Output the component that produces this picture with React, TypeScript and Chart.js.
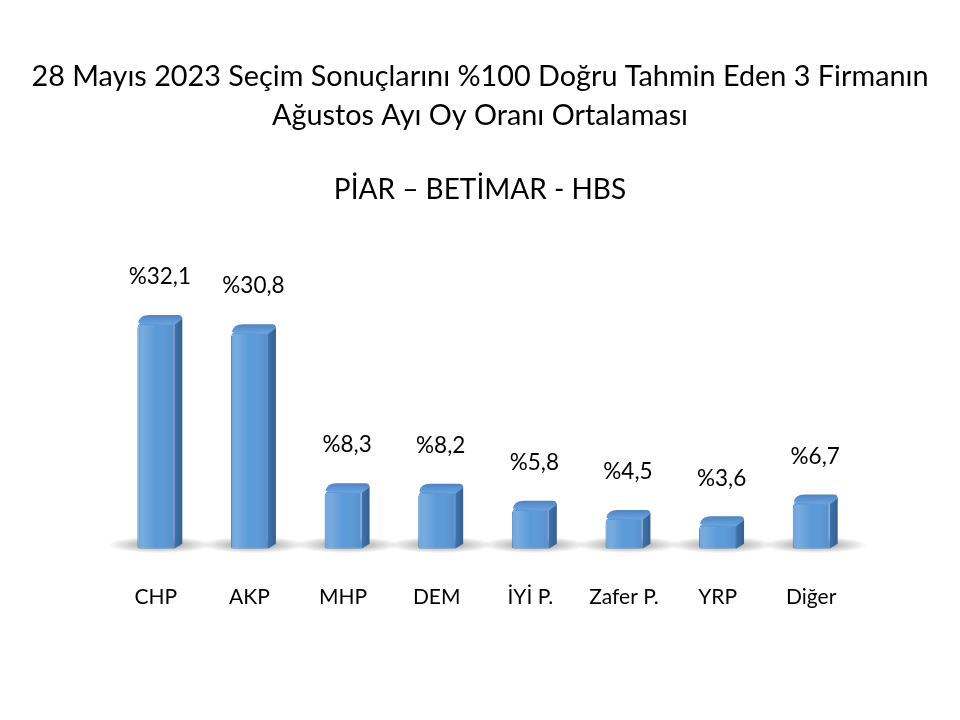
import React, { useEffect, useRef } from "react";
import { Chart, registerables } from "chart.js";

Chart.register(...registerables);

const parties = ["CHP", "AKP", "MHP", "DEM", "İYİ P.", "Zafer P.", "YRP", "Diğer"];
const voteShares = [32.1, 30.8, 8.3, 8.2, 5.8, 4.5, 3.6, 6.7];
const titleLines = [
  "28 Mayıs 2023 Seçim Sonuçlarını %100 Doğru Tahmin Eden 3 Firmanın",
  "Ağustos Ayı Oy Oranı Ortalaması",
];
const subtitleText = "PİAR – BETİMAR - HBS";

const FONT = "Lato, 'Open Sans', sans-serif";
const DEPTH_X = 8;
const DEPTH_Y = -7;

// soft floor shadow under each column, then side + top faces and the "%" labels
const bar3d = {
  id: "bar3d",
  beforeDatasetsDraw(chart: any) {
    const ctx = chart.ctx;
    chart.getDatasetMeta(0).data.forEach((bar: any) => {
      const { x, base } = bar.getProps(["x", "base"], true);
      ctx.save();
      ctx.translate(x + 4, base - 4);
      ctx.scale(1, 0.16);
      const g = ctx.createRadialGradient(0, 0, 0, 0, 0, 52);
      g.addColorStop(0, "rgba(0,0,0,0.5)");
      g.addColorStop(0.5, "rgba(0,0,0,0.22)");
      g.addColorStop(1, "rgba(0,0,0,0)");
      ctx.fillStyle = g;
      ctx.beginPath();
      ctx.arc(0, 0, 52, 0, Math.PI * 2);
      ctx.fill();
      ctx.restore();
    });
  },
  afterDatasetsDraw(chart: any) {
    const ctx = chart.ctx;
    const meta = chart.getDatasetMeta(0);
    meta.data.forEach((bar: any, i: number) => {
      const { x, y, base, width } = bar.getProps(["x", "y", "base", "width"], true);
      const x0 = x - width / 2;
      const x1 = x + width / 2;
      ctx.save();
      ctx.lineJoin = "round";
      // side face
      ctx.beginPath();
      ctx.moveTo(x1, y + 2);
      ctx.lineTo(x1 + DEPTH_X, y + DEPTH_Y + 3);
      ctx.lineTo(x1 + DEPTH_X, base + DEPTH_Y + 2);
      ctx.lineTo(x1, base);
      ctx.closePath();
      const sg = ctx.createLinearGradient(x1, 0, x1 + DEPTH_X, 0);
      sg.addColorStop(0, "#3f73ad");
      sg.addColorStop(1, "#355f91");
      ctx.fillStyle = sg;
      ctx.fill();
      // top face
      ctx.beginPath();
      ctx.moveTo(x0 + 1, y + 1);
      ctx.quadraticCurveTo(x0 + 2, y + DEPTH_Y, x0 + DEPTH_X + 4, y + DEPTH_Y);
      ctx.lineTo(x1 + DEPTH_X - 4, y + DEPTH_Y);
      ctx.quadraticCurveTo(x1 + DEPTH_X, y + DEPTH_Y, x1 + DEPTH_X, y + DEPTH_Y + 4);
      ctx.lineTo(x1, y + 3);
      ctx.closePath();
      const tg = ctx.createLinearGradient(0, y + DEPTH_Y, 0, y + 2);
      tg.addColorStop(0, "#4f84c2");
      tg.addColorStop(1, "#6aa2de");
      ctx.fillStyle = tg;
      ctx.fill();
      // front highlight
      const fg = ctx.createLinearGradient(x0, 0, x1, 0);
      fg.addColorStop(0, "rgba(255,255,255,0.10)");
      fg.addColorStop(0.15, "rgba(255,255,255,0.18)");
      fg.addColorStop(0.5, "rgba(255,255,255,0)");
      fg.addColorStop(1, "rgba(0,0,40,0.08)");
      ctx.fillStyle = fg;
      ctx.fillRect(x0 + 1, y + 3, width - 2, base - y - 4);
      ctx.restore();

      // value label
      ctx.save();
      ctx.font = "22.5px " + FONT;
      ctx.fillStyle = "#000";
      ctx.textAlign = "center";
      ctx.textBaseline = "middle";
      const label = "%" + String(voteShares[i]).replace(".", ",");
      ctx.fillText(label, x + 4, y - 45);
      ctx.restore();
    });
  },
};

const hiddenSide = {
  display: true,
  grid: { display: false, drawTicks: false },
  border: { display: false },
  ticks: { display: false },
};

const App: React.FC = () => {
  const chartRef = useRef<HTMLCanvasElement | null>(null);

  useEffect(() => {
    if (!chartRef.current) return;
    const chart = new Chart(chartRef.current, {
      type: "bar",
      data: {
        labels: parties,
        datasets: [
          {
            label: "Oy Oranı",
            data: voteShares,
            backgroundColor: "#5b9ad8",
            borderColor: "#4a82c0",
            borderWidth: 1,
            borderRadius: { topLeft: 6, topRight: 3, bottomLeft: 2, bottomRight: 0 },
            borderSkipped: false,
            barPercentage: 0.395,
            categoryPercentage: 1,
          },
        ],
      },
      options: {
        responsive: true,
        maintainAspectRatio: false,
        animation: false,
        layout: {
          padding: { top: 0, left: 0, right: 0, bottom: 74 },
        },
        plugins: {
          legend: { display: false },
          tooltip: { enabled: false },
          title: {
            display: true,
            text: titleLines,
            color: "#000",
            font: { family: FONT, size: 28.8, weight: "normal", lineHeight: 1.35 },
            padding: { top: 57.5, bottom: 35 },
          },
          subtitle: {
            display: true,
            text: subtitleText,
            color: "#000",
            font: { family: FONT, size: 28, weight: "normal", lineHeight: 1.39 },
            padding: { top: 0, bottom: 57 },
          },
        },
        scales: {
          x: {
            grid: { display: false, drawTicks: false },
            border: { display: false },
            ticks: {
              color: "#000",
              padding: 36,
              font: { family: FONT, size: 21, lineHeight: 1.2 },
              maxRotation: 0,
            },
          },
          y: {
            ...hiddenSide,
            position: "left",
            min: 0,
            max: 40,
            afterFit: (scale: any) => {
              scale.width = 109;
            },
          },
          yRight: {
            ...hiddenSide,
            type: "linear",
            position: "right",
            min: 0,
            max: 40,
            afterFit: (scale: any) => {
              scale.width = 102;
            },
          },
        },
      },
      plugins: [bar3d],
    });

    return () => {
      chart.destroy();
    };
  }, []);

  return (
    <div
      style={{
        position: "fixed",
        left: 0,
        top: 0,
        width: 960,
        height: 720,
        background: "#fff",
      }}
    >
      <canvas ref={chartRef} />
    </div>
  );
};

export default App;
